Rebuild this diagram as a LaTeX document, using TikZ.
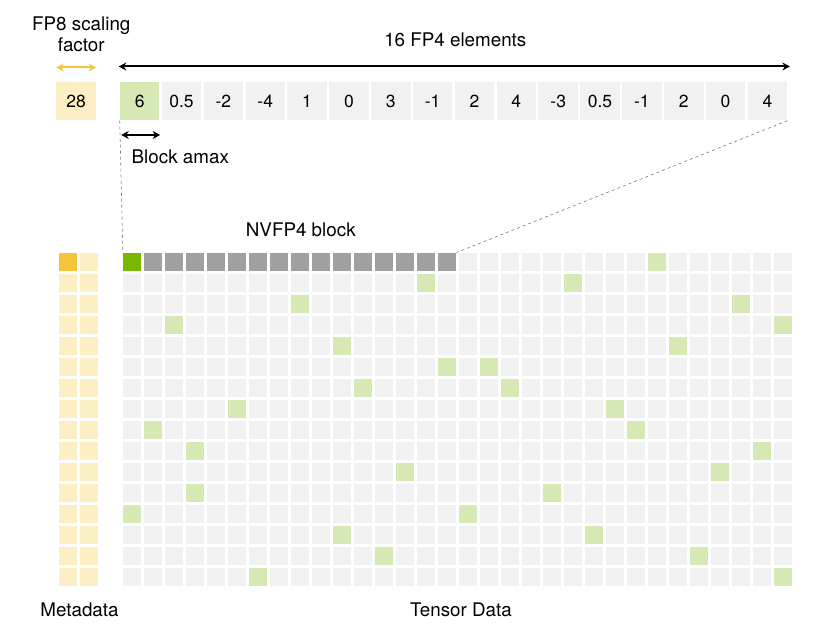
\documentclass[tikz,border=0pt]{standalone}
\usepackage{fontspec}
\setmainfont{TeX Gyre Heros}
\usepackage{tikz}
\usetikzlibrary{arrows.meta,positioning,calc}
\definecolor{NvGreen}{RGB}{118,185,0}
\definecolor{NvPaleGreen}{RGB}{214,233,180}
\definecolor{NvGold}{RGB}{246,196,58}
\definecolor{NvPaleGold}{RGB}{253,239,196}
\definecolor{NvCell}{RGB}{241,241,241}
\definecolor{NvDark}{RGB}{160,160,160}
\definecolor{NvRule}{RGB}{120,120,120}

\begin{document}
\begin{tikzpicture}[x=1pt,y=-1pt,
    cell/.style={fill=NvCell,minimum size=18.3pt,inner sep=0pt},
    meta/.style={fill=NvPaleGold,minimum width=17.7pt,minimum height=18.3pt,inner sep=0pt},
    elem/.style={fill=NvCell,minimum width=39.5pt,minimum height=38pt,inner sep=0pt,font=\fontsize{17.5}{20}\selectfont},
    label/.style={font=\fontsize{18.8}{22}\selectfont,inner sep=0pt,align=center},
    span/.style={line width=2pt,{Stealth[length=7.5pt,width=8pt]}-{Stealth[length=7.5pt,width=8pt]}},
    link/.style={draw=NvRule,dashed,line width=0.6pt}
  ]
    \useasboundingbox (0,0) rectangle (824,639);

    % scaling factor and the 16 elements
    \node[elem,fill=NvPaleGold] (sf) at (76.2,101.5) {28};
    \foreach \v [count=\i from 0] in {6,0.5,-2,-4,1,0,3,-1,2,4,-3,0.5,-1,2,0,4}
      \node[elem] (e\i) at ({139.7+41.85*\i},101.5) {\v};
    \node[elem,fill=NvPaleGreen] (e0) at (139.7,101.5) {6};

    \coordinate (sfl) at ($(sf.west)+(0,-34)$);
    \coordinate (sfr) at ($(sf.east)+(0,-34)$);
    \draw[span,NvGold] (sfl) -- (sfr);
    \node[label] (sflabel) at (81.3,34) {FP8 scaling\\[-1pt]factor};

    \coordinate (el) at ($(e0.west)+(-1,-35)$);
    \coordinate (er) at ($(e15.east)+(2.5,-35)$);
    \draw[span] (el) -- (er);
    \node[label] (ellabel) at (455.3,40) {16 FP4 elements};

    \coordinate (al) at ($(e0.west)+(1.5,33.5)$);
    \coordinate (ar) at ($(e0.east)+(0.5,33.5)$);
    \draw[span] (al) -- (ar);
    \node[label,anchor=west] (amax) at (131.5,156.5) {Block amax};

    % metadata columns
    \foreach \r in {0,...,15}{
      \node[meta] (m\r a) at (68.3,{261.85+21*\r}) {};
      \node[meta] (m\r b) at (89.3,{261.85+21*\r}) {};
    }
    \node[meta,fill=NvGold] (m0a) at (68.3,261.85) {};

    % tensor data
    \foreach \r in {0,...,15}
      \foreach \c in {0,...,31}
        \node[cell] (g-\r-\c) at ({132.2+21*\c},{261.85+21*\r}) {};
    \foreach \c in {1,...,15}
      \node[cell,fill=NvDark] (b-\c) at (g-0-\c) {};
    \node[cell,fill=NvGreen] (b-0) at (g-0-0) {};
    \foreach \r/\c [count=\k] in {0/25,1/14,1/21,2/8,2/29,3/2,3/31,4/10,4/26,5/15,5/17,6/11,6/18,7/5,7/23,
        8/1,8/24,9/3,9/30,10/13,10/28,11/3,11/20,12/0,12/16,13/10,13/22,14/12,14/27,15/6,15/31}
      \node[cell,fill=NvPaleGreen] (h\k) at (g-\r-\c) {};

    \node[label] (nvblock) at (300.8,230) {NVFP4 block};
    \node[label] (metalabel) at (79.5,610) {Metadata};
    \node[label] (datalabel) at (461,610) {Tensor Data};

    \draw[link] (e0.south west) -- (g-0-0.north west);
    \draw[link] (e15.south east) -- (g-0-15.north east);
  \end{tikzpicture}
\end{document}
